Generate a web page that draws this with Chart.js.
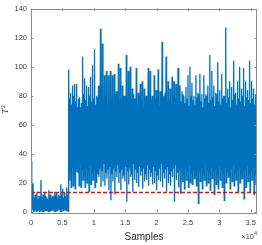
<!DOCTYPE html>
<html>
<head>
<meta charset="utf-8">
<script src="https://cdn.jsdelivr.net/npm/chart.js@4.4.1/dist/chart.umd.min.js"></script>
<style>
  html, body { margin: 0; padding: 0; background: #fff; }
  #wrap { width: 262px; height: 245px; position: relative; }
</style>
</head>
<body>
<div id="wrap"><canvas id="chart"></canvas></div>
<script>
// T^2 statistic. Per step: a spike up, a spike down,
// then the top and bottom of the dense band.
const normalEnd = 6000;      // samples before the fault
const totalSamples = 36000;
const threshold = 13.4;      // control limit (red dashed)

const normalPeaks   = [35, 20, 12, 14, 11, 22, 12, 13, 10, 15, 12, 11, 14, 13, 12, 19, 16, 13, 17];
const normalDips    = [1, 0.5, 2, 1, 0.5, 1.5, 0.5, 1, 2, 0.5, 1, 1.5, 0.5, 1, 2, 0.5, 1, 1.5, 1];
const normalTops    = [11, 10, 12, 9, 11, 10, 12, 11, 9, 12, 10, 11, 12, 10, 11, 12, 10, 11, 12];
const normalBottoms = [2, 1, 0.5, 2, 1, 0.5, 2, 1, 0.5, 1.5, 2, 0.5, 1, 2, 0.5, 1, 2, 1, 0.5];

const faultPeaks = [
  98, 82, 87, 88, 88, 78, 72, 107, 92, 87, 86, 93, 101, 112, 80, 87, 126, 116, 94, 97,
  94, 97, 94, 95, 83, 102, 99, 87, 80, 108, 97, 100, 85, 78, 99, 82, 88, 90, 85, 80,
  99, 97, 80, 94, 84, 98, 83, 117, 80, 107, 90, 85, 93, 90, 88, 99, 87, 83,
  80, 86, 94, 100, 89, 80, 94, 82, 95, 81, 94, 81, 87, 108, 97, 87, 82, 103, 84, 95,
  80, 127, 85, 90, 86, 104, 82, 90, 100, 85, 99, 90, 84, 104, 90, 85, 81
];
const faultDips = [
  22, 17, 18, 16, 28, 18, 17, 22, 17, 20, 14, 19, 22, 17, 20, 24, 17, 21, 18, 23,
  15, 8, 21, 12, 24, 20, 15, 23, 21, 7, 19, 24, 14, 22, 20, 17, 25, 16, 21, 22,
  18, 24, 19, 20, 15, 22, 21, 17, 23, 14, 20, 18, 24, 7, 22, 17, 13, 21,
  16, 22, 17, 20, 19, 23, 18, 6, 21, 16, 22, 18, 20, 15, 23, 12, 19, 16, 22, 17,
  8, 20, 24, 16, 21, 18, 22, 14, 20, 23, 9, 17, 21, 14, 22, 12, 19
];
const faultTops = [
  78, 74, 80, 76, 72, 79, 75, 81, 77, 73, 80, 76, 78, 74, 79, 82, 75, 77, 80, 73,
  76, 79, 74, 81, 77, 72, 78, 80, 75, 79, 73, 77, 81, 76, 74, 80, 78, 72, 79, 75,
  81, 77, 74, 78, 80, 73, 76, 79, 82, 75, 77, 74, 80, 78, 72, 79, 76, 81,
  75, 78, 73, 80, 77, 74, 79, 81, 76, 72, 78, 80, 75, 77, 79, 73, 81, 76, 74, 78,
  80, 75, 79, 72, 77, 81, 74, 78, 76, 80, 73, 79, 77, 75, 78, 74, 80
];
const faultBottoms = [
  28, 31, 26, 30, 27, 33, 29, 25, 30, 28, 32, 27, 29, 31, 26, 30, 28, 33, 27, 29,
  31, 26, 30, 28, 32, 27, 29, 25, 31, 28, 30, 26, 33, 29, 27, 31, 28, 30, 26, 32,
  29, 27, 31, 28, 25, 30, 33, 27, 29, 31, 26, 28, 30, 32, 27, 29, 31, 26,
  30, 28, 32, 27, 29, 25, 31, 28, 30, 26, 33, 29, 27, 31, 28, 30, 26, 32, 29, 27,
  31, 28, 25, 30, 33, 27, 29, 31, 26, 28, 30, 32, 27, 29, 31, 26, 30
];

const xTicks = [0, 5000, 10000, 15000, 20000, 25000, 30000, 35000];
const yTicks = [0, 20, 40, 60, 80, 100, 120, 140];

function buildSeries(cols, from, to, inclusive) {
  const vals = [];
  cols[0].forEach((_, i) => cols.forEach(c => vals.push(c[i])));
  const n = inclusive ? vals.length - 1 : vals.length;
  const step = (to - from) / n;
  return vals.map((v, i) => ({ x: from + i * step, y: v }));
}

const series = buildSeries([normalPeaks, normalDips, normalTops, normalBottoms], 0, normalEnd, false)
  .concat(buildSeries([faultPeaks, faultDips, faultTops, faultBottoms], normalEnd, totalSamples, true));

const axisColor = '#8a8a8a';
const textColor = '#404040';

const boxPlugin = {
  id: 'box',
  afterDraw(chart) {
    const { ctx, chartArea: a, scales: { x, y } } = chart;
    ctx.save();
    ctx.strokeStyle = axisColor;
    ctx.lineWidth = 1;
    ctx.strokeRect(Math.round(a.left) + 0.5, Math.round(a.top) + 0.5,
      Math.round(a.right - a.left) - 1, Math.round(a.bottom - a.top));
    const tl = 2.5;
    ctx.beginPath();
    x.ticks.forEach(t => {
      const px = Math.round(x.getPixelForValue(t.value)) + 0.5;
      ctx.moveTo(px, a.bottom); ctx.lineTo(px, a.bottom - tl);
      ctx.moveTo(px, a.top); ctx.lineTo(px, a.top + tl);
    });
    y.ticks.forEach(t => {
      const py = Math.round(y.getPixelForValue(t.value)) + 0.5;
      ctx.moveTo(a.left, py); ctx.lineTo(a.left + tl, py);
      ctx.moveTo(a.right, py); ctx.lineTo(a.right - tl, py);
    });
    ctx.stroke();

    // axis labels
    ctx.fillStyle = '#262626';
    ctx.font = '10px "Liberation Sans", Arial, sans-serif';
    ctx.textAlign = 'center';
    ctx.textBaseline = 'middle';
    ctx.fillText('Samples', (a.left + a.right) / 2, 237);

    ctx.fillStyle = textColor;
    ctx.font = '7.5px "Liberation Sans", Arial, sans-serif';
    ctx.textAlign = 'right';
    ctx.fillText('\u00d710', 254, 237);
    ctx.font = '5.5px "Liberation Sans", Arial, sans-serif';
    ctx.textAlign = 'left';
    ctx.fillText('4', 254, 233.5);

    ctx.translate(6, (a.top + a.bottom) / 2);
    ctx.rotate(-Math.PI / 2);
    ctx.fillStyle = '#262626';
    ctx.font = 'italic 9px "Liberation Serif", "Times New Roman", serif';
    ctx.textAlign = 'center';
    ctx.fillText('T', -1, 0);
    ctx.font = '6px "Liberation Serif", serif';
    ctx.fillText('2', 3.5, -3);
    ctx.restore();
  }
};

new Chart(document.getElementById('chart'), {
  type: 'line',
  data: {
    datasets: [
      {
        data: [{ x: 0, y: threshold }, { x: totalSamples, y: threshold }],
        borderColor: '#ff0000',
        borderWidth: 1.5,
        borderDash: [4, 2],
        pointRadius: 0,
        order: 0
      },
      {
        data: series,
        borderColor: '#0072BD',
        borderWidth: 1.3,
        pointRadius: 0,
        tension: 0,
        order: 1
      }
    ]
  },
  options: {
    responsive: true,
    maintainAspectRatio: false,
    animation: false,
    events: [],
    layout: { padding: { left: 0, top: 6, right: 1.7, bottom: 0 } },
    plugins: { legend: { display: false }, tooltip: { enabled: false } },
    scales: {
      x: {
        type: 'linear',
        min: 0,
        max: totalSamples,
        grid: { display: false, drawTicks: false },
        border: { display: false },
        afterFit: s => { s.height = 33; },
        afterBuildTicks: s => { s.ticks = xTicks.map(v => ({ value: v })); },
        ticks: {
          padding: 6,
          maxRotation: 0,
          autoSkip: false,
          color: textColor,
          font: { size: 7.5, family: '"Liberation Sans", Arial, sans-serif' },
          callback: v => String(v / 10000)
        }
      },
      y: {
        min: 0,
        max: 140,
        grid: { display: false, drawTicks: false },
        border: { display: false },
        afterFit: s => { s.width = 31; },
        afterBuildTicks: s => { s.ticks = yTicks.map(v => ({ value: v })); },
        ticks: {
          padding: 4,
          color: textColor,
          font: { size: 7.5, family: '"Liberation Sans", Arial, sans-serif' }
        }
      }
    }
  },
  plugins: [boxPlugin]
});
</script>
</body>
</html>
